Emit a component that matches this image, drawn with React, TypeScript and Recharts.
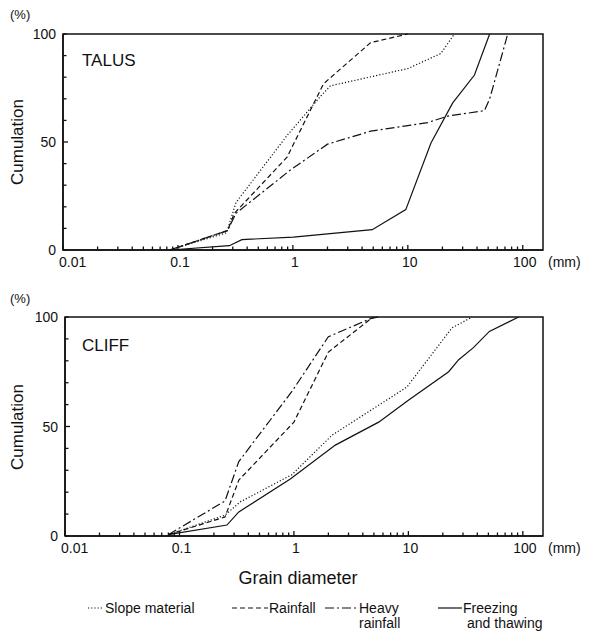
import React from 'react';
import { LineChart, Line, XAxis, YAxis, ReferenceArea } from 'recharts';

// grain diameter (mm) / cumulation (%)
const talusSlopeD = [0.085, 0.265, 0.32, 0.89, 1.73, 2.12, 10, 19.4, 25.4];
const talusSlopeP = [0, 8, 22, 53, 71, 76, 84, 91, 100];
const talusRainD = [0.085, 0.27, 0.31, 0.89, 1.85, 4.75, 10];
const talusRainP = [0, 9, 17, 43, 77, 96, 100];
const talusHeavyD = [0.085, 0.27, 0.32, 0.95, 2, 4.75, 14.9, 22.3, 46.4, 51.6, 74];
const talusHeavyP = [0, 9, 17, 37, 49, 55, 59, 62, 64.5, 70, 100];
const talusFreezeD = [0.085, 0.28, 0.36, 1.01, 4.9, 9.6, 15.9, 24.5, 38, 51.5];
const talusFreezeP = [0, 2, 4.8, 6, 9.4, 18.7, 49.5, 68, 81, 100];

const cliffSlopeD = [0.08, 0.25, 0.34, 0.96, 2.15, 9.7, 24, 36];
const cliffSlopeP = [0.6, 9.5, 15.6, 28, 46, 68, 95, 100];
const cliffRainD = [0.08, 0.25, 0.33, 1, 2, 4.65, 5.1];
const cliffRainP = [0.6, 8.7, 25.5, 52, 84, 99, 100];
const cliffHeavyD = [0.08, 0.25, 0.33, 0.96, 2, 4.8, 5.5];
const cliffHeavyP = [0.6, 16, 34, 66, 91, 99.5, 100];
const cliffFreezeD = [0.08, 0.26, 0.33, 0.93, 2.3, 5.5, 10, 22.5, 27.5, 37, 51, 92];
const cliffFreezeP = [0.6, 5, 11, 26, 41.5, 52, 62, 75, 80.5, 86, 93.4, 100];

const xMajorTicks = [0.01, 0.1, 1, 10, 100];
const xMajorLabels = ['0.01', '0.1', '1', '10', '100'];
const xMinorTicks = [
  0.02, 0.03, 0.04, 0.05, 0.06, 0.07, 0.08, 0.09,
  0.2, 0.3, 0.4, 0.5, 0.6, 0.7, 0.8, 0.9,
  2, 3, 4, 5, 6, 7, 8, 9,
  20, 30, 40, 50, 60, 70, 80, 90,
];
const yTicks = [0, 10, 20, 30, 40, 50, 60, 70, 80, 90, 100];
const yLabelTicks = [0, 50, 100];

const seriesNames = ['Slope material', 'Rainfall', 'Heavy rainfall', 'Freezing and thawing'];

const FONT = '"Liberation Sans", Arial, sans-serif';
const INK = '#111';
const dashes = ['1.2 2', '5 3', '9 3 2 3', undefined];

const pts = (d: number[], p: number[]) => d.map((x, i) => ({ x, y: p[i] }));

const XTick = (props: any) => {
  const { x, y, payload } = props;
  const idx = xMajorTicks.indexOf(payload.value);
  const major = idx >= 0;
  return (
    <g>
      <path d={`M${x},${y}V${y - (major ? 5 : 3.5)}`} stroke={INK} strokeWidth={1.3} fill="none" />
      {major && (
        <text
          x={idx === 0 ? x - 4 : x + 2}
          y={y + 17}
          textAnchor={idx === 0 ? 'start' : 'middle'}
          fontSize={14}
          fontFamily={FONT}
          fill={INK}
        >
          {xMajorLabels[idx]}
        </text>
      )}
    </g>
  );
};

const YTick = (props: any) => {
  const { x, y, payload } = props;
  const labeled = yLabelTicks.includes(payload.value);
  return (
    <g>
      <path d={`M${x},${y}H${x + (payload.value === 50 ? 5 : 3.5)}`} stroke={INK} strokeWidth={1.3} fill="none" />
      {labeled && (
        <text x={x - 7} y={y + 5} textAnchor="end" fontSize={14} fontFamily={FONT} fill={INK}>
          {payload.value}
        </text>
      )}
    </g>
  );
};

type PanelProps = { top: number; left: number; plotH: number; series: { x: number; y: number }[][] };

function Panel({ top, left, plotH, series }: PanelProps) {
  const right = 543;
  return (
    <div style={{ position: 'absolute', top, left: 0 }}>
      <LineChart
        width={592}
        height={34 + plotH + 25}
        margin={{ top: 34, right: 592 - right, left: left - 40, bottom: 0 }}
      >
        <XAxis
          dataKey="x"
          type="number"
          scale="log"
          domain={[0.01, 150]}
          allowDataOverflow
          ticks={[...xMajorTicks, ...xMinorTicks]}
          interval={0}
          tick={<XTick />}
          tickLine={false}
          tickSize={0}
          tickMargin={0}
          height={25}
          axisLine={{ stroke: INK, strokeWidth: 1.5 }}
        />
        <YAxis
          type="number"
          domain={[0, 100]}
          ticks={yTicks}
          interval={0}
          tick={<YTick />}
          tickLine={false}
          tickSize={0}
          tickMargin={0}
          width={40}
          axisLine={{ stroke: INK, strokeWidth: 1.5 }}
        />
        <ReferenceArea
          x1={0.01}
          x2={150}
          y1={0}
          y2={100}
          fill="none"
          fillOpacity={0}
          stroke={INK}
          strokeWidth={1.5}
          ifOverflow="visible"
        />
        {series.map((s, i) => (
          <Line
            key={seriesNames[i]}
            name={seriesNames[i]}
            data={s}
            dataKey="y"
            type="linear"
            stroke={INK}
            strokeWidth={1.2}
            strokeDasharray={dashes[i]}
            dot={false}
            isAnimationActive={false}
          />
        ))}
      </LineChart>
    </div>
  );
}

const talusSeries = [
  pts(talusSlopeD, talusSlopeP),
  pts(talusRainD, talusRainP),
  pts(talusHeavyD, talusHeavyP),
  pts(talusFreezeD, talusFreezeP),
];
const cliffSeries = [
  pts(cliffSlopeD, cliffSlopeP),
  pts(cliffRainD, cliffRainP),
  pts(cliffHeavyD, cliffHeavyP),
  pts(cliffFreezeD, cliffFreezeP),
];

const legendItems = [
  { x1: 88, x2: 104, lines: ['Slope material'] },
  { x1: 232, x2: 268, lines: ['Rainfall'] },
  { x1: 325, x2: 358, lines: ['Heavy', 'rainfall'] },
  { x1: 438, x2: 462, lines: ['Freezing', 'and thawing'] },
];

export default function App() {
  const txt = { fontFamily: FONT, fill: INK } as const;
  return (
    <div style={{ position: 'absolute', left: 0, top: 0, width: 592, height: 642, background: '#fff' }}>
      <Panel top={0} left={63} plotH={216} series={talusSeries} />
      <Panel top={283} left={65} plotH={219} series={cliffSeries} />
      <svg width={592} height={642} style={{ position: 'absolute', left: 0, top: 0, pointerEvents: 'none' }}>
        <text x={10} y={19} fontSize={13} {...txt}>(%)</text>
        <text x={10} y={303} fontSize={13} {...txt}>(%)</text>
        <text transform="translate(23,142) rotate(-90)" textAnchor="middle" fontSize={17} {...txt}>Cumulation</text>
        <text transform="translate(23,427) rotate(-90)" textAnchor="middle" fontSize={17} {...txt}>Cumulation</text>
        <text x={82} y={66} fontSize={17} {...txt}>TALUS</text>
        <text x={82} y={351} fontSize={17} {...txt}>CLIFF</text>
        <text x={548} y={267} fontSize={14} {...txt}>(mm)</text>
        <text x={548} y={553} fontSize={14} {...txt}>(mm)</text>
        <text x={298} y={584} textAnchor="middle" fontSize={18} {...txt}>Grain diameter</text>
        {legendItems.map((it, i) => (
          <g key={it.lines[0]}>
            <line x1={it.x1} x2={it.x2} y1={608} y2={608} stroke={INK} strokeWidth={1.2} strokeDasharray={dashes[i]} />
            {it.lines.map((l, j) => (
              <text key={l} x={it.x2 + 1 + (j > 0 && i === 3 ? 4 : 0)} y={613 + j * 15} fontSize={14} {...txt}>{l}</text>
            ))}
          </g>
        ))}
      </svg>
    </div>
  );
}
